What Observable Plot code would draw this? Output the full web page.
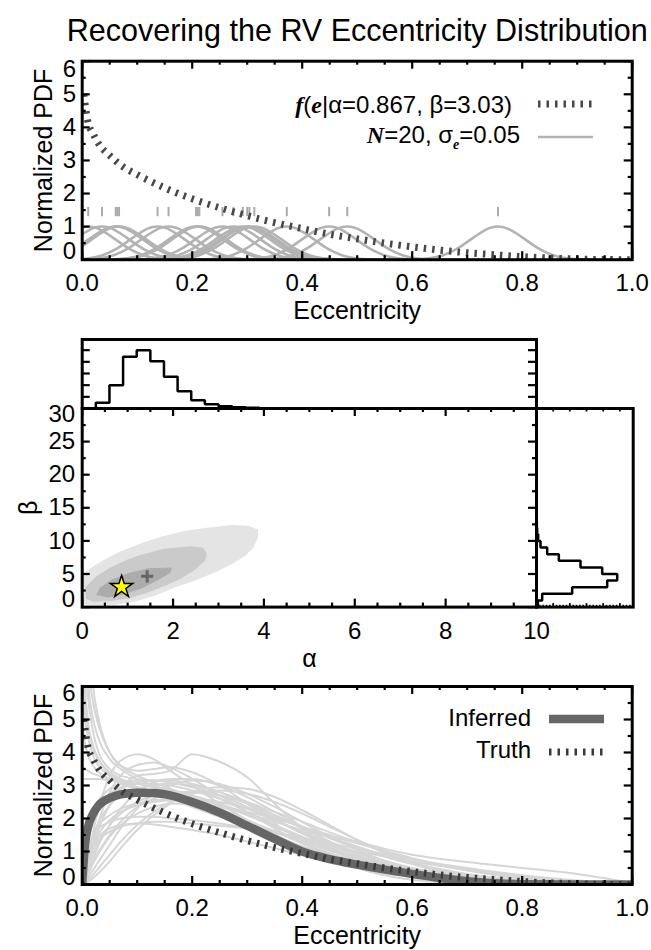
<!DOCTYPE html>
<html><head><meta charset="utf-8">
<script src="https://cdn.jsdelivr.net/npm/d3@7"></script>
<script src="https://cdn.jsdelivr.net/npm/@observablehq/plot@0.6"></script>
<style>
body{margin:0;background:#fff;}
#chart{position:relative;width:651px;height:950px;background:#fff;overflow:hidden;}
#chart svg{position:absolute;left:0;background:transparent;overflow:visible;font-family:'Liberation Sans',Arial,Helvetica,sans-serif;font-size:24px;}
</style></head><body><div id="chart"></div>
<script>
const FONT = "'Liberation Sans', Arial, Helvetica, sans-serif";
const SERIF = "'Liberation Serif', 'Times New Roman', serif";

// ---------- text ----------
const titleText = "Recovering the RV Eccentricity Distribution";
const eccTitle = "Eccentricity";
const pdfTitle = "Normalized PDF";

// ---------- tick values ----------
const eccMajor = [0, 0.2, 0.4, 0.6, 0.8, 1.0];
const eccMinor = [0.05,0.1,0.15,0.25,0.3,0.35,0.45,0.5,0.55,0.65,0.7,0.75,0.85,0.9,0.95];
const pdfMajor = [0,1,2,3,4,5,6];
const pdfMinor = [0.5,1.5,2.5,3.5,4.5,5.5];
const alphaMajor = [0,2,4,6,8,10];
const alphaMinor = [0.5,1,1.5,2.5,3,3.5,4.5,5,5.5,6.5,7,7.5,8.5,9,9.5];
const betaMajor = [0,5,10,15,20,25,30];
const betaMinor = [2.5,7.5,12.5,17.5,22.5,27.5];
const alphaHistTicks = [35,70,105,140,175];
const betaHistMajor = [50,100,150,200,250];
const betaHistMinor = [10,20,30,40,60,70,80,90,110,120,130,140,160,170,180,190,210,220,230,240,260,270,280];

// ---------- top panel data ----------
const observedEcc = [0.011,0.036,0.061,0.064,0.067,0.137,0.157,0.207,0.210,0.213,0.255,0.275,0.292,0.300,0.304,0.313,0.372,0.449,0.482,0.756];
const gaussOffset = [-0.2,-0.175,-0.15,-0.125,-0.1,-0.075,-0.05,-0.025,0,0.025,0.05,0.075,0.1,0.125,0.15,0.175,0.2];
const gaussShape  = [0,0.002,0.011,0.044,0.135,0.325,0.607,0.882,1,0.882,0.607,0.325,0.135,0.044,0.011,0.002,0];
const truthEcc = [0.003,0.01,0.02,0.03,0.05,0.075,0.1,0.15,0.2,0.25,0.3,0.35,0.4,0.45,0.5,0.55,0.6,0.65,0.7,0.75,0.8,0.85,0.9,0.95,1.0];
const truthPdf = [5.0,4.2,3.8,3.5,3.15,2.8,2.57,2.17,1.84,1.57,1.33,1.12,0.94,0.77,0.63,0.5,0.39,0.29,0.21,0.15,0.09,0.05,0.02,0.005,0];
const truthParams = {alpha: 0.867, beta: 3.03};
const nObs = 20, sigmaE = 0.05;

// ---------- middle panel data ----------
const alphaBinStart = [0.3,0.6,0.9,1.2,1.5,1.8,2.1,2.4,2.7,3.0,3.3,3.6,3.9,4.2];
const alphaCounts   = [17,70,155,175,142,95,52,25,13,7,4,2,1,0.5];
const alphaBinWidth = 0.3;
const betaBinStart = [0,1,2,3,4,5,6,7,8,9,10,11,12];
const betaCounts   = [4,17,107,212,242,197,132,67,32,12,5,2,1];
const betaBinWidth = 1;
const contourOuter = [[0.01,0.4],[0.01,5.0],[0.18,5.86],[0.51,7.27],[0.80,8.27],[1.32,9.68],[1.76,10.68],[2.27,11.54],[2.78,12.04],[3.30,12.39],[3.66,12.29],[3.87,11.69],[3.87,10.53],[3.77,9.02],[3.59,7.77],[3.30,6.52],[2.93,5.26],[2.49,4.0],[2.05,3.0],[1.61,1.75],[1.17,0.84],[0.73,0.35],[0.39,0.3]];
const contourMid = [[0.07,3.0],[0.3,4.6],[0.6,5.9],[1.0,7.2],[1.3,7.9],[1.8,8.8],[2.4,9.2],[2.65,9.0],[2.75,8.1],[2.7,7.0],[2.5,5.7],[2.2,4.4],[1.85,3.3],[1.45,2.2],[1.0,1.3],[0.6,0.9],[0.25,0.8],[0.07,1.3]];
const contourInner = [[0.31,1.85],[0.40,3.0],[0.66,4.16],[1.02,5.16],[1.46,5.86],[1.98,6.0],[1.94,5.16],[1.65,4.0],[1.28,2.75],[0.88,1.85],[0.55,1.45]];
const inferredParams = {alpha: 1.43, beta: 4.65};

// ---------- bottom panel data ----------
const eccGrid = [0,0.005,0.01,0.02,0.03,0.05,0.07,0.1,0.13,0.16,0.2,0.25,0.3,0.35,0.4,0.45,0.5,0.55,0.6,0.7,0.8,0.9,1.0];
const posteriorDraws = [
 [9,7.5,6.2,5.0,4.4,3.8,3.5,3.2,3.0,2.85,2.6,2.3,1.95,1.6,1.25,0.95,0.7,0.48,0.32,0.12,0.03,0.005,0],
 [10,8,6.8,5.5,4.8,4.0,3.6,3.3,3.1,2.9,2.65,2.3,1.9,1.5,1.15,0.85,0.6,0.4,0.26,0.09,0.02,0,0],
 [8,6.0,5.0,4.2,3.8,3.4,3.2,3.05,2.95,2.85,2.7,2.45,2.15,1.8,1.45,1.1,0.8,0.55,0.36,0.13,0.03,0,0],
 [3.2,3.2,3.2,3.2,3.2,3.15,3.1,3.05,2.95,2.85,2.65,2.4,2.1,1.75,1.4,1.05,0.75,0.5,0.32,0.1,0.02,0,0],
 [3.6,3.5,3.45,3.35,3.3,3.2,3.1,2.95,2.8,2.6,2.35,2.05,1.75,1.45,1.15,0.9,0.68,0.5,0.35,0.15,0.05,0.01,0],
 [10,7.0,5.8,4.6,4.0,3.5,3.3,3.2,3.15,3.1,2.95,2.6,2.2,1.8,1.4,1.05,0.75,0.5,0.32,0.1,0.02,0,0],
 [14,11,8.5,6.0,5.0,4.0,3.6,3.45,3.5,3.55,3.4,3.0,2.45,1.85,1.3,0.85,0.5,0.28,0.14,0.03,0,0,0],
 [6,5.0,4.5,3.9,3.6,3.3,3.1,2.95,2.8,2.65,2.45,2.2,1.92,1.62,1.33,1.05,0.8,0.6,0.43,0.2,0.07,0.01,0],
 [7,5.5,4.8,4.1,3.75,3.35,3.15,2.95,2.8,2.65,2.45,2.2,1.9,1.6,1.3,1.02,0.78,0.58,0.42,0.2,0.08,0.02,0],
 [5,4.3,3.95,3.6,3.4,3.2,3.05,2.9,2.75,2.6,2.4,2.15,1.88,1.6,1.32,1.07,0.85,0.65,0.49,0.25,0.1,0.03,0],
 [0,0.4,0.8,1.6,2.3,3.3,3.75,3.95,3.8,3.45,3.0,2.45,1.95,1.5,1.1,0.8,0.55,0.37,0.24,0.08,0.02,0,0],
 [0,0.3,0.6,1.3,1.9,2.8,3.3,3.62,3.7,3.55,3.2,2.7,2.2,1.7,1.25,0.9,0.6,0.4,0.25,0.08,0.02,0,0],
 [0,0.3,0.6,1.2,1.7,2.4,2.9,3.3,3.35,3.45,3.95,3.72,3.25,2.45,1.7,1.1,0.7,0.42,0.25,0.07,0.01,0,0],
 [0,0.5,0.9,1.5,1.9,2.4,2.7,2.9,3.0,3.05,3.0,2.8,2.5,2.1,1.7,1.3,0.95,0.65,0.42,0.15,0.04,0.01,0],
 [0,0.2,0.4,0.8,1.2,1.8,2.3,2.8,3.1,3.2,3.2,3.0,2.65,2.2,1.75,1.3,0.9,0.6,0.38,0.12,0.03,0,0],
 [0,0.1,0.2,0.45,0.7,1.2,1.7,2.3,2.75,3.0,3.15,3.05,2.75,2.35,1.9,1.45,1.05,0.72,0.46,0.16,0.04,0,0],
 [0,0.6,1.0,1.5,1.8,2.1,2.3,2.45,2.55,2.6,2.6,2.5,2.3,2.05,1.75,1.45,1.15,0.88,0.65,0.32,0.13,0.04,0],
 [0,0.4,0.7,1.1,1.35,1.6,1.75,1.85,1.9,1.9,1.85,1.78,1.7,1.55,1.4,1.2,1.0,0.85,0.7,0.45,0.25,0.1,0],
 [0,0.5,0.8,1.2,1.45,1.7,1.8,1.85,1.82,1.75,1.65,1.5,1.3,1.1,0.9,0.72,0.56,0.43,0.32,0.16,0.07,0.02,0],
 [0,0.05,0.12,0.3,0.5,0.9,1.3,1.8,2.2,2.5,2.75,2.85,2.75,2.5,2.15,1.75,1.35,0.98,0.68,0.27,0.07,0.01,0],
 [0,0.03,0.08,0.2,0.35,0.7,1.1,1.65,2.1,2.45,2.8,2.95,2.9,2.65,2.25,1.8,1.35,0.95,0.63,0.22,0.05,0,0],
 [0,0.8,1.3,1.9,2.3,2.7,2.9,3.05,3.05,3.0,2.85,2.6,2.3,1.95,1.6,1.27,0.97,0.72,0.5,0.2,0.06,0.01,0],
 [0,0.5,0.8,1.25,1.55,1.95,2.2,2.4,2.5,2.55,2.5,2.35,2.15,1.9,1.65,1.45,1.3,1.08,0.9,0.68,0.5,0.32,0.05],
 [0,0.3,0.55,0.95,1.3,1.8,2.15,2.5,2.7,2.8,2.8,2.7,2.5,2.2,1.9,1.58,1.28,1.0,0.78,0.42,0.18,0.05,0],
 [0,0.9,1.4,2.0,2.35,2.75,2.95,3.1,3.15,3.15,3.05,2.8,2.45,2.0,1.55,1.15,0.8,0.52,0.32,0.1,0.02,0,0],
 [0,0.15,0.3,0.65,0.95,1.45,1.8,2.15,2.35,2.45,2.45,2.35,2.2,2.0,1.75,1.5,1.25,1.02,0.8,0.45,0.2,0.06,0],
 [0,1.1,1.6,2.2,2.55,2.9,3.05,3.15,3.15,3.1,2.95,2.7,2.35,1.95,1.55,1.2,0.88,0.62,0.42,0.16,0.04,0,0],
 [0,0.7,1.1,1.5,1.7,1.9,2.0,2.05,2.05,2.0,1.95,1.85,1.72,1.58,1.42,1.25,1.08,0.92,0.76,0.5,0.28,0.12,0.02],
 [0,0.2,0.35,0.7,1.0,1.5,1.9,2.35,2.6,2.75,2.8,2.7,2.45,2.1,1.75,1.4,1.1,0.84,0.62,0.3,0.12,0.03,0]
];
const inferredPdf = [0,1.2,1.7,2.15,2.4,2.62,2.73,2.78,2.77,2.7,2.5,2.18,1.78,1.38,1.0,0.77,0.6,0.45,0.32,0.1,0.01,0,0];

// ---------- helpers ----------
const W = 651;
const chart = document.getElementById("chart");
const fmt1 = d3.format(".1f"), fmt0 = d3.format("d");
const TICK = {stroke: "black", strokeWidth: 2.2};

function frameTicks(P, spec) {
  const fw = W - P.ml - P.mr, fh = P.H - P.mt - P.mb;
  const out = [];
  for (const [vals, len, sides, sw] of (spec.x || [])) {
    const st = {...TICK, strokeWidth: sw || TICK.strokeWidth};
    if (sides.includes("b")) out.push(Plot.tickX(vals, {x: d => d, insetTop: fh - len, ...st}));
    if (sides.includes("t")) out.push(Plot.tickX(vals, {x: d => d, insetBottom: fh - len, ...st}));
  }
  for (const [vals, len, sides, sw] of (spec.y || [])) {
    const st = {...TICK, strokeWidth: sw || TICK.strokeWidth};
    if (sides.includes("l")) out.push(Plot.tickY(vals, {y: d => d, insetRight: fw - len, ...st}));
    if (sides.includes("r")) out.push(Plot.tickY(vals, {y: d => d, insetLeft: fw - len, ...st}));
  }
  return out;
}
function yLabels(vals, fmt, dx, dyLow, dyHigh) {
  const c = {y: d => d, text: d => fmt(d), frameAnchor: "left", dx, textAnchor: "end", lineAnchor: "middle", fontSize: 24};
  return [Plot.text(vals.slice(1, -1), c), Plot.text([vals[0]], {...c, dy: dyLow}), Plot.text([vals[vals.length - 1]], {...c, dy: dyHigh})];
}
function xLabels(vals, fmt) {
  return Plot.text(vals, {x: d => d, text: d => fmt(d), frameAnchor: "bottom", dy: 24, lineAnchor: "middle", fontSize: 24});
}
function yTitle(text, dx) {
  return Plot.text([text], {frameAnchor: "left", dx, rotate: -90, textAnchor: "middle", lineAnchor: "bottom", fontSize: 25});
}
function make(P, xdom, ydom, marks) {
  const svg = Plot.plot({width: W, height: P.H, marginLeft: P.ml, marginRight: P.mr, marginTop: P.mt, marginBottom: P.mb,
    x: {domain: xdom, axis: null}, y: {domain: ydom, axis: null}, marks});
  svg.style.top = P.top + "px";
  chart.appendChild(svg);
  return svg;
}
const frame = () => Plot.frame({stroke: "black", strokeWidth: 3});

// ---------- top panel ----------
const P1 = {top: 0, H: 335, ml: 81.7, mr: 19.3, mt: 60.7, mb: 75.8};
const gaussPts = [];
observedEcc.forEach((c, k) => gaussOffset.forEach((o, j) => gaussPts.push({k, e: c + o, p: gaussShape[j]})));
const truthPts = truthEcc.map((e, i) => ({e, p: truthPdf[i]}));
const svg1 = make(P1, [0, 1], [0, 6], [
  Plot.line(gaussPts, {x: "e", y: "p", z: "k", stroke: "#b3b3b3", strokeWidth: 2.5, curve: "natural", clip: true}),
  Plot.ruleX(observedEcc, {x: d => d, y1: 1.3, y2: 1.58, stroke: "#ababab", strokeWidth: 2}),
  Plot.line(truthPts, {x: "e", y: "p", stroke: "#474747", strokeWidth: 7, strokeDasharray: "2.5,6", strokeLinecap: "butt", curve: "monotone-x", clip: true}),
  ...frameTicks(P1, {x: [[eccMajor, 8, "bt"], [eccMinor, 4, "bt"]], y: [[pdfMajor, 8, "lr"], [pdfMinor, 4, "lr"]]}),
  frame(),
  xLabels(eccMajor, fmt1),
  ...yLabels(pdfMajor, fmt0, -6, -8, 8),
  Plot.text([eccTitle], {frameAnchor: "bottom", dy: 51, lineAnchor: "middle", fontSize: 25}),
  yTitle(pdfTitle, -30),
  Plot.text([titleText], {frameAnchor: "top", dy: -20, lineAnchor: "bottom", fontSize: 30.5})
]);
{
  const g = d3.select(svg1).append("g").attr("font-family", FONT).attr("font-size", 24).attr("fill", "black");
  const bi = s => s.attr("font-family", SERIF).attr("font-style", "italic").attr("font-weight", "bold");
  const t1 = g.append("text").attr("x", 512).attr("y", 105).attr("dy", "0.35em").attr("text-anchor", "end");
  bi(t1.append("tspan")).text("f");
  t1.append("tspan").text("(");
  bi(t1.append("tspan")).text("e");
  t1.append("tspan").text(`|α=${truthParams.alpha}, β=${truthParams.beta.toFixed(2)})`);
  const t2 = g.append("text").attr("x", 520).attr("y", 135).attr("dy", "0.35em").attr("text-anchor", "end");
  bi(t2.append("tspan")).text("N");
  t2.append("tspan").text(`=${nObs}, σ`);
  bi(t2.append("tspan")).attr("font-size", 14).attr("dy", 6).text("e");
  t2.append("tspan").attr("dy", -6).text(`=${sigmaE.toFixed(2)}`);
  g.append("line").attr("x1", 538).attr("x2", 592).attr("y1", 104).attr("y2", 104)
    .attr("stroke", "#474747").attr("stroke-width", 7).attr("stroke-dasharray", "2.5,6");
  g.append("line").attr("x1", 538).attr("x2", 593).attr("y1", 137).attr("y2", 137)
    .attr("stroke", "#b3b3b3").attr("stroke-width", 2.5);
}

// ---------- middle: alpha histogram ----------
const P2a = {top: 330, H: 78, ml: 81.7, mr: 115, mt: 9, mb: 0};
const alphaOutline = [{a: alphaBinStart[0], c: 0}];
alphaBinStart.forEach((a, i) => alphaOutline.push({a, c: alphaCounts[i]}, {a: a + alphaBinWidth, c: alphaCounts[i]}));
alphaOutline.push({a: alphaBinStart[alphaBinStart.length - 1] + alphaBinWidth, c: 0});
make(P2a, [0, 10], [0, 207], [
  Plot.line(alphaOutline, {x: "a", y: "c", stroke: "black", strokeWidth: 2.5, strokeLinecap: "butt", strokeLinejoin: "miter"}),
  ...frameTicks(P2a, {y: [[alphaHistTicks, 8, "lr"]]}),
  frame()
]);

// ---------- middle: joint alpha-beta ----------
const P2b = {top: 400, H: 280, ml: 81.7, mr: 115, mt: 8, mb: 73.4};
const poly = (pts, fill) => Plot.line(pts, {x: d => d[0], y: d => d[1], fill, stroke: "none", curve: "linear-closed", clip: true});
make(P2b, [0, 10], [0, 30], [
  poly(contourOuter, "#e4e4e4"),
  poly(contourMid, "#cacaca"),
  poly(contourInner, "#acacac"),
  Plot.dot([inferredParams], {x: "alpha", y: "beta", symbol: "plus", r: 4, stroke: "#666", strokeWidth: 3}),
  Plot.dot([truthParams], {x: "alpha", y: "beta", symbol: "star", r: 7, fill: "#ffff00", stroke: "black", strokeWidth: 1.5}),
  ...frameTicks(P2b, {x: [[alphaMajor, 8, "bt"], [alphaMinor, 4, "bt"]], y: [[betaMajor, 8, "lr"], [betaMinor, 4, "lr"]]}),
  frame(),
  xLabels(alphaMajor, fmt0),
  ...yLabels(betaMajor, fmt0, -7, -8, 6),
  Plot.text(["α"], {frameAnchor: "bottom", dy: 52, lineAnchor: "middle", fontSize: 25}),
  yTitle("β", -45)
]);

// ---------- middle: beta histogram ----------
const P2c = {top: 400, H: 280, ml: 536, mr: 18.3, mt: 8, mb: 73.4};
const betaOutline = [{c: 0, b: betaBinStart[0]}];
betaBinStart.forEach((b, i) => betaOutline.push({c: betaCounts[i], b}, {c: betaCounts[i], b: b + betaBinWidth}));
betaOutline.push({c: 0, b: betaBinStart[betaBinStart.length - 1] + betaBinWidth});
make(P2c, [0, 290], [0, 30], [
  Plot.line(betaOutline, {x: "c", y: "b", stroke: "black", strokeWidth: 2.5, strokeLinecap: "butt", strokeLinejoin: "miter"}),
  ...frameTicks(P2c, {x: [[betaHistMajor, 3.5, "bt", 1.8], [betaHistMinor, 1.8, "bt", 1.5]]}),
  frame()
]);

// ---------- bottom panel ----------
const P3 = {top: 660, H: 290, ml: 81.7, mr: 19.3, mt: 26, mb: 66};
const drawPts = [];
posteriorDraws.forEach((arr, k) => arr.forEach((p, i) => drawPts.push({k, e: eccGrid[i], p})));
const inferredPts = eccGrid.map((e, i) => ({e, p: inferredPdf[i]}));
const svg3 = make(P3, [0, 1], [0, 6], [
  Plot.line(drawPts, {x: "e", y: "p", z: "k", stroke: "#d6d6d6", strokeWidth: 2, curve: "monotone-x", clip: true}),
  Plot.line(inferredPts, {x: "e", y: "p", stroke: "#666", strokeWidth: 8.5, strokeLinecap: "butt", curve: "monotone-x", clip: true}),
  Plot.line(truthPts, {x: "e", y: "p", stroke: "#3a3a3a", strokeWidth: 7, strokeDasharray: "2.5,6", strokeLinecap: "butt", curve: "monotone-x", clip: true}),
  ...frameTicks(P3, {x: [[eccMajor, 8, "bt"], [eccMinor, 4, "bt"]], y: [[pdfMajor, 8, "lr"], [pdfMinor, 4, "lr"]]}),
  frame(),
  xLabels(eccMajor, fmt1),
  ...yLabels(pdfMajor, fmt0, -6.5, -7, 7),
  Plot.text([eccTitle], {frameAnchor: "bottom", dy: 51, lineAnchor: "middle", fontSize: 25}),
  yTitle(pdfTitle, -30)
]);
{
  const g = d3.select(svg3).append("g").attr("font-family", FONT).attr("font-size", 24).attr("fill", "black");
  g.append("text").attr("x", 531).attr("y", 58).attr("dy", "0.35em").attr("text-anchor", "end").text("Inferred");
  g.append("text").attr("x", 531).attr("y", 90).attr("dy", "0.35em").attr("text-anchor", "end").text("Truth");
  g.append("line").attr("x1", 549).attr("x2", 604).attr("y1", 59).attr("y2", 59).attr("stroke", "#666").attr("stroke-width", 8.5);
  g.append("line").attr("x1", 549).attr("x2", 603).attr("y1", 92).attr("y2", 92)
    .attr("stroke", "#3a3a3a").attr("stroke-width", 7).attr("stroke-dasharray", "2.5,6");
}
</script></body></html>
